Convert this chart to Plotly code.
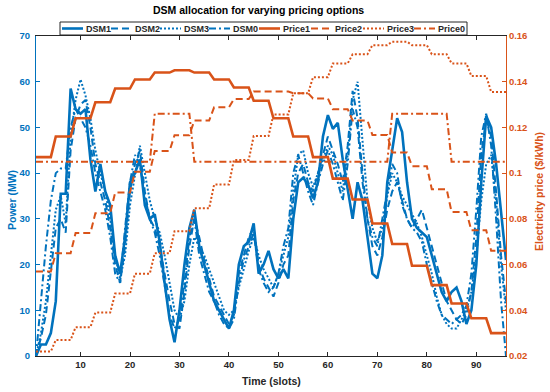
import plotly.graph_objects as go

# ---------------- data ----------------
slots = list(range(1, 97))

dsm1 = [0, 2.5, 2.5, 5, 12, 35.5, 35.5, 58.5, 54, 53,
        54, 43, 36, 42, 36, 33, 22, 18, 26, 38,
        40, 43, 33, 30, 31, 25, 16, 8, 3, 10,
        20, 28, 32, 24, 20, 16, 12, 10, 8, 6,
        10, 20, 24, 25, 29, 18, 20, 23, 19, 17,
        19, 17, 30, 38, 39, 37.5, 34.5, 38, 48, 52.7,
        49.7, 51, 43, 36, 30, 38, 34, 26, 18, 17,
        22, 38, 45, 52, 49, 38, 30, 28, 27, 26,
        22, 18, 14, 12, 14, 15, 12, 7, 10, 20,
        38, 52.5, 50, 42, 31, 21]

dsm2 = [0, 4, 9, 18, 28, 30, 27, 45, 52, 55,
        56, 50, 42, 38, 34, 28, 20, 16, 24, 36,
        42, 45, 36, 30, 28, 24, 18, 12, 7, 6,
        14, 24, 30, 26, 21, 17, 13, 11, 9, 7,
        9, 18, 22, 26, 28, 20, 17, 15, 13, 16,
        20, 22, 34, 40, 42, 38, 36, 40, 44, 48,
        45, 42, 38, 46, 58, 52, 40, 30, 24, 22,
        26, 32, 36, 38, 34, 30, 28, 30, 32, 28,
        24, 20, 16, 12, 10, 8, 7, 9, 14, 26,
        44, 52, 48, 36, 22, 12]

dsm3 = [0, 5, 12, 22, 32, 35, 29, 48, 56, 60.5,
        57, 52, 45, 40, 36, 30, 22, 17, 22, 33,
        40, 46, 40, 34, 30, 27, 22, 16, 10, 8,
        12, 20, 26, 24, 22, 19, 16, 13, 10, 9,
        10, 15, 19, 23, 26, 22, 19, 17, 15, 18,
        22, 26, 36, 44, 45, 40, 37, 40, 43, 46,
        44, 40, 36, 44, 56, 60, 46, 34, 28, 25,
        28, 35, 40, 38, 35, 33, 31, 29, 26, 22,
        18, 13, 9, 7, 6, 6, 8, 10, 14, 22,
        34, 42, 44, 34, 20, 10]

dsm0 = [0, 12, 24, 34, 40, 41, 41, 50, 54, 52,
        50, 46, 40, 36, 32, 26, 18, 16, 28, 38,
        44, 42, 35, 30, 27, 22, 15, 9, 6, 8,
        16, 26, 30, 22, 18, 14, 12, 9, 7, 6,
        8, 16, 21, 24, 27, 19, 16, 14, 15, 18,
        24, 28, 40, 44, 40, 36, 33, 38, 42, 45,
        42, 38, 34, 42, 54, 50, 38, 30, 26, 24,
        30, 36, 42, 40, 33, 30, 28, 27, 25, 20,
        16, 12, 9, 8, 7, 8, 9, 11, 18, 32,
        48, 53, 46, 30, 12, 0]

# hourly prices ($/kWh), each hour = 4 slots
price1_hourly = [0.107, 0.116, 0.124, 0.131, 0.137, 0.141, 0.144, 0.145,
                 0.144, 0.141, 0.1375, 0.1317, 0.124, 0.116, 0.107, 0.0976,
                 0.0885, 0.078, 0.069, 0.0595, 0.051, 0.043, 0.0365, 0.030]
price2_hourly = [0.057, 0.065, 0.0738, 0.0825, 0.0915, 0.1006, 0.1097, 0.1166,
                 0.123, 0.1288, 0.1324, 0.1357, 0.1357, 0.135, 0.1327, 0.128,
                 0.123, 0.1167, 0.109, 0.103, 0.093, 0.083, 0.075, 0.066]
price3_hourly = [0.022, 0.027, 0.0326, 0.039, 0.0473, 0.056, 0.065, 0.0746,
                 0.0846, 0.095, 0.1058, 0.1162, 0.1257, 0.1349, 0.142, 0.148,
                 0.152, 0.156, 0.1575, 0.156, 0.152, 0.148, 0.1425, 0.1355]
price0_hourly = [0.105, 0.105, 0.105, 0.105, 0.105, 0.105, 0.126, 0.126,
                 0.105, 0.105, 0.105, 0.105, 0.105, 0.105, 0.105, 0.105,
                 0.105, 0.105, 0.126, 0.126, 0.126, 0.105, 0.105, 0.105]

x_ticks = [10, 20, 30, 40, 50, 60, 70, 80, 90]
y1_ticks = [0, 10, 20, 30, 40, 50, 60, 70]
y2_ticks = [0.02, 0.04, 0.06, 0.08, 0.1, 0.12, 0.14, 0.16]
y2_ticktext = ["0.02", "0.04", "0.06", "0.08", "0.1", "0.12", "0.14", "0.16"]


def per_slot(hourly):
    return [v for v in hourly for _ in range(4)]


price1 = per_slot(price1_hourly)
price2 = per_slot(price2_hourly)
price3 = per_slot(price3_hourly)
price0 = per_slot(price0_hourly)

# ---------------- style ----------------
BLUE = "#0072BD"
ORANGE = "#D95319"
GRAY = "#262626"
FONT = "Liberation Sans, Arial, sans-serif"

DASH = "7px,4px"
DOT = "2px,2px"
DASHDOT = "7px,3px,2px,3px"

dsm_series = [
    ("DSM1", dsm1, "solid", 2.6),
    ("DSM2", dsm2, DASH, 2.0),
    ("DSM3", dsm3, DOT, 2.0),
    ("DSM0", dsm0, DASHDOT, 2.0),
]
price_series = [
    ("Price1", price1, "solid", 2.6),
    ("Price2", price2, DASH, 2.0),
    ("Price3", price3, DOT, 2.0),
    ("Price0", price0, DASHDOT, 2.0),
]

fig = go.Figure()
for name, vals, dash, w in dsm_series:
    fig.add_trace(go.Scatter(x=slots, y=vals, mode="lines", name=name,
                             line=dict(color=BLUE, width=w, dash=dash),
                             yaxis="y"))
for name, vals, dash, w in price_series:
    fig.add_trace(go.Scatter(x=slots, y=vals, mode="lines", name=name,
                             line=dict(color=ORANGE, width=w, dash=dash),
                             yaxis="y2"))

W, H = 550, 392
ML, MR, MT, MB = 36, 44, 36, 36
PW, PH = W - ML - MR, H - MT - MB


def px(xp):
    return (xp - ML) / PW


def py(yp):
    return (H - MB - yp) / PH


shapes = []
annotations = []

# legend box (manual)
shapes.append(dict(type="rect", xref="paper", yref="paper",
                   x0=px(60), x1=px(467), y0=py(35), y1=py(22),
                   line=dict(color=GRAY, width=1), fillcolor="white",
                   layer="above"))
leg_starts = [62, 111, 160, 209, 259, 311, 363, 414]
leg_items = [(n, BLUE, d, w) for n, _, d, w in dsm_series] + \
            [(n, ORANGE, d, w) for n, _, d, w in price_series]
for xs, (n, c, d, w) in zip(leg_starts, leg_items):
    shapes.append(dict(type="line", xref="paper", yref="paper",
                       x0=px(xs), x1=px(xs + 21), y0=py(28.5), y1=py(28.5),
                       line=dict(color=c, width=w, dash=d), layer="above"))
    annotations.append(dict(xref="paper", yref="paper", x=px(xs + 22), y=py(28.5),
                            text=n, showarrow=False, xanchor="left",
                            yanchor="middle",
                            font=dict(family=FONT, size=9, color=GRAY,
                                      weight="bold")))

# axis titles
annotations.append(dict(xref="paper", yref="paper", x=px(12), y=py(200),
                        text="Power (MW)", textangle=-90, showarrow=False,
                        xanchor="center", yanchor="middle",
                        font=dict(family=FONT, size=10.5, color=BLUE,
                                  weight="bold")))
annotations.append(dict(xref="paper", yref="paper", x=px(539), y=py(192),
                        text="Electricity price ($/kWh)", textangle=-90,
                        showarrow=False, xanchor="center", yanchor="middle",
                        font=dict(family=FONT, size=10.5, color=ORANGE,
                                  weight="bold")))
annotations.append(dict(xref="paper", yref="paper", x=px(271), y=py(381),
                        text="Time (slots)", showarrow=False,
                        xanchor="center", yanchor="middle",
                        font=dict(family=FONT, size=10.5, color=GRAY,
                                  weight="bold")))
# title
annotations.append(dict(xref="paper", yref="paper", x=px(258), y=py(10),
                        text="DSM allocation for varying pricing options",
                        showarrow=False, xanchor="center", yanchor="middle",
                        font=dict(family=FONT, size=10.5, color="black",
                                  weight="bold")))

fig.update_layout(
    width=W, height=H,
    margin=dict(l=ML, r=MR, t=MT, b=MB, autoexpand=False),
    paper_bgcolor="white", plot_bgcolor="white",
    showlegend=False, hovermode=False,
    shapes=shapes, annotations=annotations,
    xaxis=dict(range=[1, 96], tickvals=x_ticks, ticks="inside", ticklen=4,
               tickcolor=GRAY, showline=True, linecolor=GRAY, linewidth=1,
               mirror="ticks", showgrid=False, zeroline=False,
               tickfont=dict(family=FONT, size=9.5, color=GRAY, weight="bold")),
    yaxis=dict(range=[0, 70], tickvals=y1_ticks, ticks="inside", ticklen=4,
               tickcolor=BLUE, showline=True, linecolor=BLUE, linewidth=1,
               showgrid=False, zeroline=False, ticklabelstandoff=3,
               tickfont=dict(family=FONT, size=9.5, color=BLUE, weight="bold")),
    yaxis2=dict(range=[0.02, 0.16], tickvals=y2_ticks, ticktext=y2_ticktext,
                overlaying="y", side="right", ticks="inside", ticklen=4,
                tickcolor=ORANGE, showline=True, linecolor=ORANGE, linewidth=1,
                showgrid=False, zeroline=False,
                tickfont=dict(family=FONT, size=9.5, color=ORANGE,
                              weight="bold")),
)

fig.write_html("out.html",
               config={"displayModeBar": False, "staticPlot": True},
               post_script="document.body.style.margin='0';"
                           "document.body.style.overflow='hidden';")
